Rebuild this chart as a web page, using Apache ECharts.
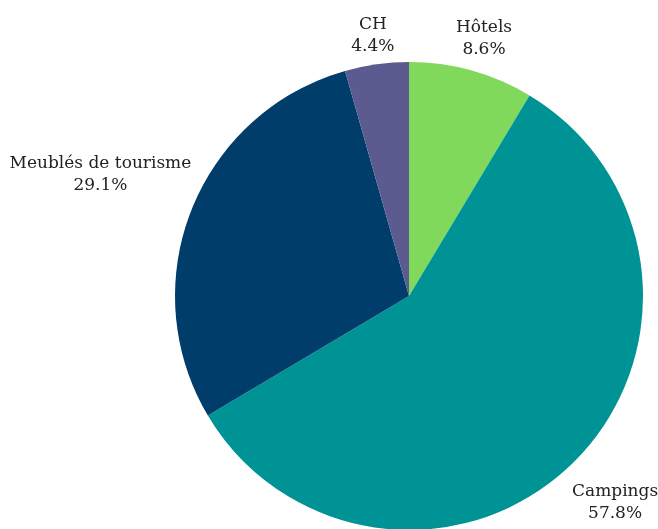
<!DOCTYPE html>
<html>
<head>
<meta charset="utf-8">
<script src="https://cdn.jsdelivr.net/npm/echarts@6/dist/echarts.min.js"></script>
<style>
html,body{margin:0;padding:0;background:#fff;}
#chart{width:658px;height:529px;}
</style>
</head>
<body>
<div id="chart"></div>
<script>
var categories = ['Hôtels', 'Campings', 'Meublés de tourisme', 'CH'];
var values = [8.6, 57.8, 29.1, 4.4];
var colors = ['#80D95B', '#009396', '#003D6B', '#5B5B8F'];
var labelShift = [[-27, -9], [-24, 24], [27, -26], [26, -5]];

var chart = echarts.init(document.getElementById('chart'), null, {renderer: 'canvas'});
var data = categories.map(function (c, i) {
  return { name: c, value: values[i], itemStyle: { color: colors[i] } };
});
chart.setOption({
  animation: false,
  series: [{
    type: 'pie',
    center: [409, 296],
    radius: 234,
    startAngle: 90,
    clockwise: true,
    avoidLabelOverlap: false,
    data: data,
    label: {
      show: true,
      position: 'outside',
      formatter: function (p) { return p.name + '\n' + p.value.toFixed(1) + '%'; },
      fontFamily: 'DejaVu Serif',
      fontSize: 17,
      lineHeight: 22,
      color: '#222',
      overflow: 'none',
      bleedMargin: -300
    },
    labelLine: { show: false, length: 24, length2: 0 },
    labelLayout: function (p) {
      var r = p.labelRect, s = labelShift[p.dataIndex];
      return {
        x: r.x + r.width / 2 + s[0],
        y: r.y + r.height / 2 + s[1],
        align: 'center',
        verticalAlign: 'middle'
      };
    },
    emphasis: { disabled: true }
  }]
});
</script>
</body>
</html>
